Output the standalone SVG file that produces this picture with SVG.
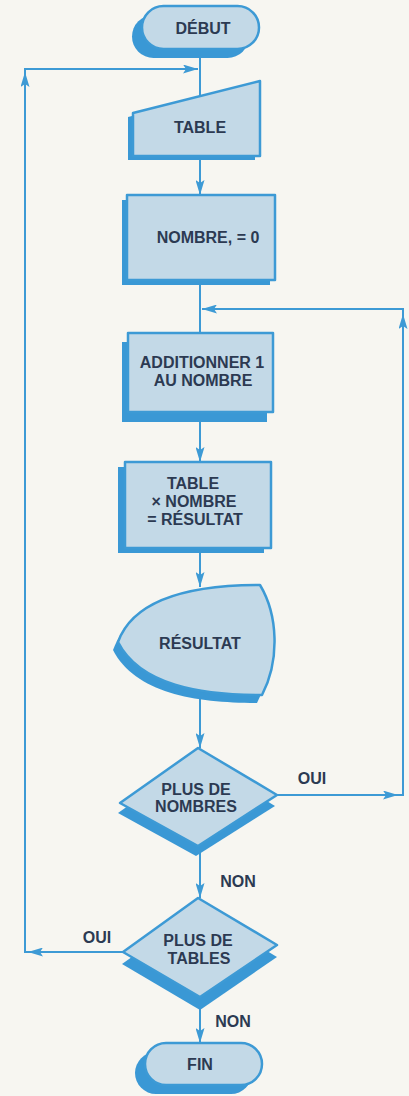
<svg xmlns="http://www.w3.org/2000/svg" width="409" height="1096" viewBox="0 0 409 1096">
<style>
.bg{fill:#f7f6f1}
.shape{fill:#c3d9e7;stroke:#3d9ad5;stroke-width:2.5;stroke-linejoin:round}
.shadow{fill:#3a98d5}
.conn{stroke:#3d9ad5;stroke-width:2;fill:none}
.lbl{font-family:"Liberation Sans",Arial,sans-serif;font-weight:bold;font-size:16px;fill:#2c3a52;text-anchor:middle}
</style>
<defs>
<marker id="ah" markerUnits="userSpaceOnUse" markerWidth="15" markerHeight="9" refX="15" refY="4.5" orient="auto">
<path d="M0,0 L15,4.5 L0,9 L3,4.5 z" fill="#3d9ad5"/>
</marker>
</defs>
<rect class="bg" x="0" y="0" width="409" height="1096"/>
<g id="connectors">
<path class="conn" d="M200,49 L200,96"/>
<path class="conn" d="M200,156 L200,195" marker-end="url(#ah)"/>
<path class="conn" d="M200,280 L200,333"/>
<path class="conn" d="M200,412 L200,462" marker-end="url(#ah)"/>
<path class="conn" d="M200,548 L200,587" marker-end="url(#ah)"/>
<path class="conn" d="M200,695 L200,748" marker-end="url(#ah)"/>
<path class="conn" d="M200,846 L200,898" marker-end="url(#ah)"/>
<path class="conn" d="M200,997 L200,1043" marker-end="url(#ah)"/>
<path class="conn" d="M277,795 L398,795" marker-end="url(#ah)"/>
<path class="conn" d="M398,795 L403,795 L403,314" marker-end="url(#ah)"/>
<path class="conn" d="M403,314 L403,309 L202,309" marker-end="url(#ah)"/>
<path class="conn" d="M123,952 L28,952" marker-end="url(#ah)"/>
<path class="conn" d="M28,952 L25,952 L25,72" marker-end="url(#ah)"/>
<path class="conn" d="M25,72 L25,69 L198,69" marker-end="url(#ah)"/>
<text class="lbl" x="312" y="784">OUI</text>
<text class="lbl" x="238" y="887">NON</text>
<text class="lbl" x="97" y="943">OUI</text>
<text class="lbl" x="233" y="1027">NON</text>
</g>
<g id="debut">
<rect class="shadow" x="132" y="15" width="117" height="43" rx="21.5"/>
<rect class="shape" x="142" y="6" width="117" height="43" rx="21.5"/>
<text class="lbl" x="203" y="34">DÉBUT</text>
</g>
<g id="table-input">
<polygon class="shadow" points="128,117 255,85 255,160 128,160"/>
<polygon class="shape" points="133,113 260,81 260,156 133,156"/>
<text class="lbl" x="200" y="133">TABLE</text>
</g>
<g id="nombre-zero">
<rect class="shadow" x="122" y="200" width="148" height="85"/>
<rect class="shape" x="127" y="195" width="148" height="85"/>
<text class="lbl" x="208" y="243">NOMBRE, = 0</text>
</g>
<g id="additionner">
<rect class="shadow" x="122" y="342" width="145" height="80"/>
<rect class="shape" x="128" y="333" width="145" height="79"/>
<text class="lbl" x="202" y="368">ADDITIONNER 1</text>
<text class="lbl" x="203" y="386">AU NOMBRE</text>
</g>
<g id="multiplier">
<rect class="shadow" x="118" y="467" width="146" height="86"/>
<rect class="shape" x="125" y="462" width="146" height="86"/>
<text class="lbl" x="193" y="489">TABLE</text>
<text class="lbl" x="194" y="507">× NOMBRE</text>
<text class="lbl" x="195" y="525">= RÉSULTAT</text>
</g>
<g id="resultat">
<path class="shadow" d="M255,593 C195,593 130,603 113,650 C135,693 195,703 257,703 C275,668 273,623 255,593 Z"/>
<path class="shape" d="M260,585 C200,585 135,595 118,642 C140,685 200,695 262,695 C280,660 278,615 260,585 Z"/>
<text class="lbl" x="200" y="649">RÉSULTAT</text>
</g>
<g id="plus-nombres">
<polygon class="shadow" points="196,758 275,806 196,856 118,813"/>
<polygon class="shape" points="198,748 277,795 198,846 120,803"/>
<text class="lbl" x="196" y="795">PLUS DE</text>
<text class="lbl" x="196" y="812">NOMBRES</text>
</g>
<g id="plus-tables">
<polygon class="shadow" points="198,910 277,957 200,1010 122,964"/>
<polygon class="shape" points="198,898 277,945 200,997 123,952"/>
<text class="lbl" x="198" y="946">PLUS DE</text>
<text class="lbl" x="199" y="964">TABLES</text>
</g>
<g id="fin">
<rect class="shadow" x="135" y="1052" width="117" height="42" rx="21"/>
<rect class="shape" x="145" y="1043" width="117" height="42" rx="21"/>
<text class="lbl" x="200" y="1070">FIN</text>
</g>
</svg>
